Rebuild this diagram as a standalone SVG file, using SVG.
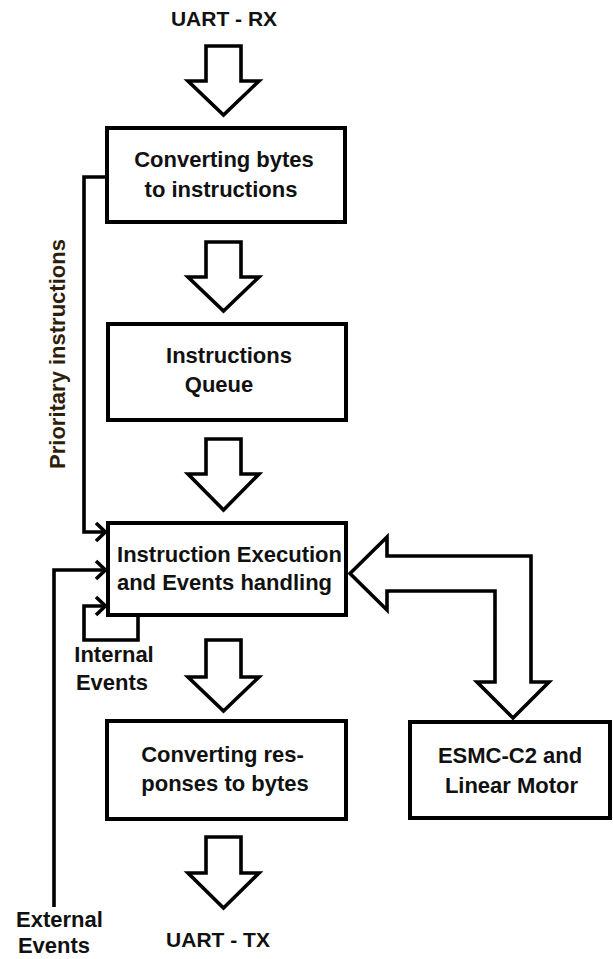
<svg xmlns="http://www.w3.org/2000/svg" width="613" height="959" viewBox="0 0 613 959">
<style>
  .box { fill: #ffffff; stroke: #000000; stroke-width: 4; }
  .blk { fill: #ffffff; stroke: #000000; stroke-width: 3.6; stroke-linejoin: miter; }
  .ln { fill: none; stroke: #000000; stroke-width: 3.6; stroke-linejoin: miter; }
  .t { font-family: "Liberation Sans", Arial, sans-serif; font-weight: bold; font-size: 22px; fill: #111111; text-anchor: middle; }
  .u { font-size: 21px; }
</style>
<defs>
  <marker id="chev" viewBox="0 0 13 22" refX="11.5" refY="11" markerWidth="13" markerHeight="22" markerUnits="userSpaceOnUse" orient="auto">
    <path d="M1.5,2 L11,11 L1.5,20" fill="none" stroke="#000000" stroke-width="3.6"/>
  </marker>
</defs>
<rect width="613" height="959" fill="#ffffff"/>

<g id="connectors">
  <polygon class="blk" points="206,46 241,46 241,81 259,81 223.5,115 188,81 206,81"/>
  <polygon class="blk" points="206,242 241,242 241,277 259,277 223.5,311 188,277 206,277"/>
  <polygon class="blk" points="206,439 241,439 241,474 259,474 223.5,510 188,474 206,474"/>
  <polygon class="blk" points="206,640 241,640 241,677 259,677 223.5,711 188,677 206,677"/>
  <polygon class="blk" points="206,837 241,837 241,873 259,873 223.5,908 188,873 206,873"/>
  <polygon class="blk" points="350,573.5 387,537 387,556 531,556 531,682 549,682 513,718 477,682 495,682 495,591 387,591 387,610"/>
  <polyline class="ln" points="105,177 84,177 84,532 106,532" marker-end="url(#chev)"/>
  <polyline class="ln" points="54,907 54,570 106,570" marker-end="url(#chev)"/>
  <polyline class="ln" points="138,617 138,640 84,640 84,606 106,606" marker-end="url(#chev)"/>
</g>

<g id="uart-rx">
  <text class="t u" x="224" y="26">UART - RX</text>
</g>

<g id="node-converting-bytes">
  <rect class="box" x="107" y="128" width="238" height="94"/>
  <text class="t" x="224" y="167">Converting bytes</text>
  <text class="t" x="221" y="197">to instructions</text>
</g>

<g id="node-queue">
  <rect class="box" x="108" y="324" width="238" height="96"/>
  <text class="t" x="229" y="363">Instructions</text>
  <text class="t" x="219" y="392">Queue</text>
</g>

<g id="node-execution">
  <rect class="box" x="108" y="523" width="238" height="92"/>
  <text class="t" x="229.5" y="562">Instruction Execution</text>
  <text class="t" x="224.5" y="590">and Events handling</text>
</g>

<g id="node-converting-responses">
  <rect class="box" x="107" y="721" width="239" height="98"/>
  <text class="t" x="222.5" y="762">Converting res-</text>
  <text class="t" x="225" y="791">ponses to bytes</text>
</g>

<g id="node-esmc">
  <rect class="box" x="410" y="722" width="200" height="96"/>
  <text class="t" x="510" y="763">ESMC-C2 and</text>
  <text class="t" x="511.5" y="793">Linear Motor</text>
</g>

<g id="uart-tx">
  <text class="t u" x="218" y="947">UART - TX</text>
</g>

<g id="label-prioritary">
  <text class="t" style="fill:#2e1f0c" transform="translate(65,354) rotate(-90)">Prioritary instructions</text>
</g>

<g id="label-internal">
  <text class="t" x="114" y="662">Internal</text>
  <text class="t" x="112" y="690">Events</text>
</g>

<g id="label-external">
  <text class="t" x="59.5" y="927">External</text>
  <text class="t" x="54" y="953">Events</text>
</g>
</svg>
